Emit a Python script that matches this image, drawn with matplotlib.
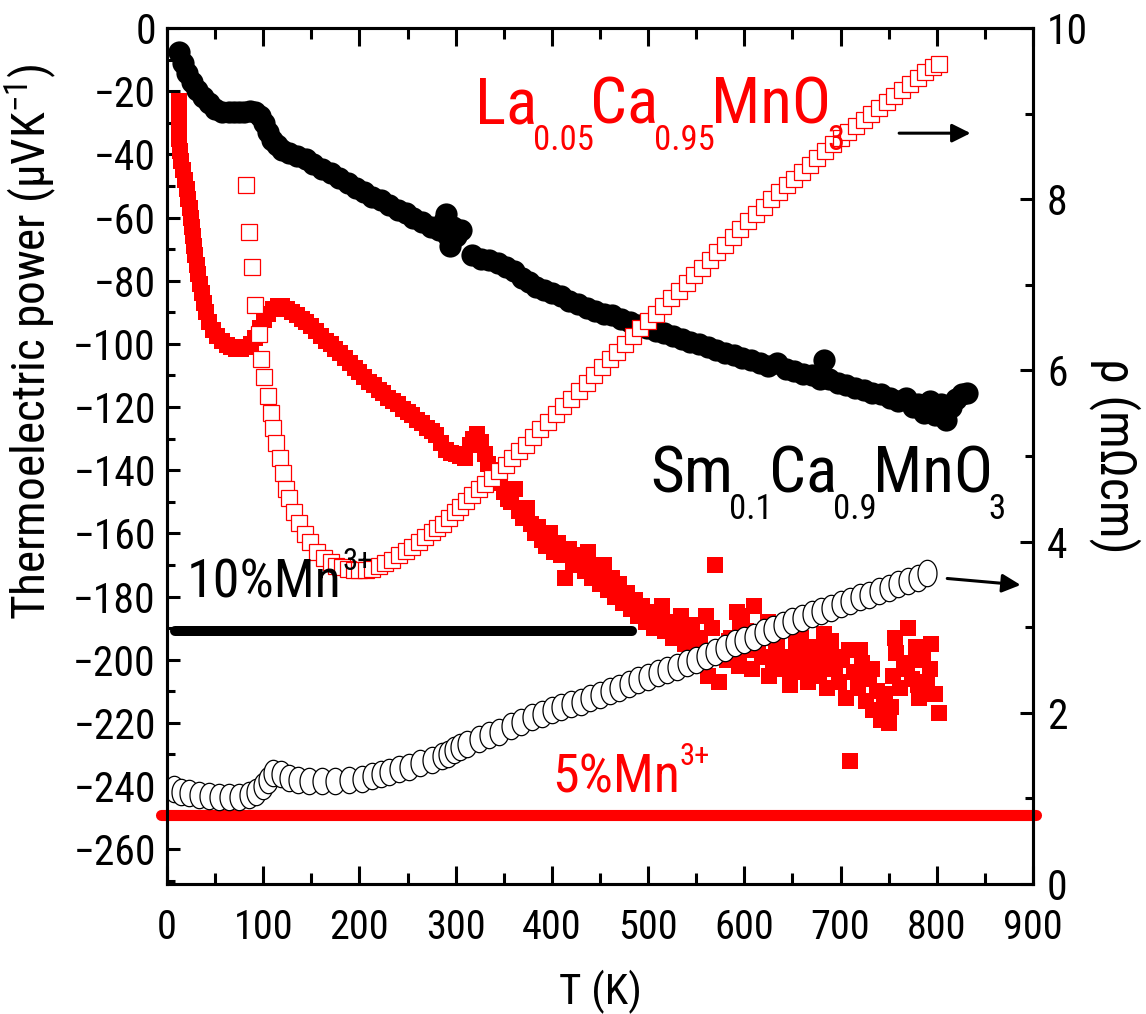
import numpy as np
import matplotlib
matplotlib.use("Agg")
from matplotlib import pyplot as plt
from matplotlib.path import Path
from matplotlib.transforms import offset_copy
from matplotlib.ticker import MultipleLocator

plt.rcParams['font.family'] = ['Roboto Condensed', 'Liberation Sans', 'DejaVu Sans']
plt.rcParams['mathtext.fontset'] = 'custom'
plt.rcParams['mathtext.rm'] = 'Roboto Condensed'
plt.rcParams['mathtext.it'] = 'Roboto Condensed'
plt.rcParams['mathtext.default'] = 'regular'

# Sm0.1Ca0.9MnO3 thermopower (black filled circles, left axis)
sm_T = [13, 17, 21, 26, 31, 37, 44, 50, 57, 64, 70, 75, 80, 86, 92, 97, 101, 105, 109, 114,
        120, 127, 135, 144, 152, 161, 170, 179, 188, 196, 205, 213, 222, 231, 240, 248, 256,
        265, 274, 283, 288, 290, 292, 294, 297, 300, 306, 317, 326, 335, 344, 352, 361, 369,
        376, 383, 392, 400, 409, 418, 427, 436, 445, 454, 463, 472, 481, 490, 499, 508, 517,
        526, 535, 544, 553, 562, 571, 580, 589, 598, 607, 616, 625, 634, 643, 652, 661, 670,
        679, 683, 688, 697, 706, 715, 724, 733, 742, 751, 760, 768, 775, 781, 787, 793, 798,
        804, 810, 815, 820, 826, 831]
sm_S = [-7.6, -11, -14.3, -17, -19.6, -22, -23.8, -25.5, -26.5, -26.6, -26.6, -26.6, -26.5,
        -26.3, -26.5, -28, -30, -33, -35.5, -37, -38.5, -39.5, -40.5, -41.5, -43, -44.5, -46,
        -47.5, -49, -50.5, -52, -53.5, -54.5, -56, -57.5, -58.6, -60, -61.5, -63, -64, -61,
        -59, -66, -69, -63, -66, -64, -72, -73, -73.5, -74.5, -75.7, -77, -79, -80.5, -82, -83,
        -84, -85, -86.5, -87.5, -88.5, -89.5, -90.5, -91, -92, -93, -94, -95, -96, -96.5,
        -97.5, -98.5, -99.5, -100, -101, -102, -103, -103.5, -104.5, -105, -106, -107, -106,
        -108, -108.5, -109.5, -110, -111, -105, -111, -112.5, -113, -114, -114.5, -115.5, -116,
        -117, -118, -117, -120, -119, -122, -118, -122.5, -119, -124, -120, -117.5, -116, -115.5]

# La0.05Ca0.95MnO3 thermopower (red filled squares, left axis)
la_T = [12, 12, 13, 13, 14, 15, 17, 19, 21, 22, 24, 25, 26, 27, 28, 29, 31, 32, 34, 36, 38,
        41, 44, 48, 52, 57, 62, 67, 72, 77, 82, 87, 92, 97, 101, 105, 110, 115, 120, 125, 130,
        135, 140, 145, 150, 155, 160, 165, 170, 175, 180, 185, 190, 195, 200, 205, 210, 215,
        220, 225, 230, 235, 240, 245, 250, 255, 260, 265, 270, 275, 280, 285, 290, 295, 300,
        305, 310, 315, 318, 322, 326, 330, 334, 338, 342, 346, 350, 354, 358, 362, 366, 370,
        374, 378, 382, 386, 390, 394, 398, 402, 406, 410, 414, 418, 422, 426, 430, 434, 438,
        442, 446, 450, 454, 458, 462, 466, 470, 474, 478, 482, 486, 490, 494, 498, 502, 506,
        510, 514, 518, 522, 526, 530, 534, 538, 542, 546, 550, 554, 558, 562, 566, 570, 574,
        578, 582, 586, 590, 594, 598, 602, 606, 610, 614, 618, 622, 626, 630, 634, 638, 642,
        646, 650, 654, 658, 662, 666, 670, 674, 678, 682, 686, 690, 694, 698, 702, 706, 710,
        714, 718, 722, 726, 730, 734, 738, 742, 746, 750, 754, 758, 762, 766, 770, 774, 778,
        782, 786, 790, 794, 798, 802,
        584, 596, 608, 621, 633, 647, 659, 671, 683, 697, 709, 721, 733, 745, 757, 769, 781,
        793, 560, 592, 625, 655, 688, 720, 752, 785]
la_S = [-23, -27, -31, -35, -39, -42, -45, -48, -51, -54, -57, -60, -63, -66, -69, -72, -75,
        -78, -81, -84, -87, -90, -93, -95.5, -97.5, -99, -100.5, -101, -101.5, -101.5, -101,
        -100, -98, -95, -92.5, -90.5, -89, -88, -88, -89, -90, -91, -92, -93, -94.5, -96,
        -97.5, -99, -100, -101.5, -103, -104.5, -106, -107.5, -109, -110.5, -112, -113, -114.5,
        -115.5, -117, -118, -119, -120.5, -121.5, -122.5, -124, -125, -126.5, -127.5, -129,
        -131.5, -133.5, -134.5, -135, -135.5, -136, -132, -130, -128.5, -131, -135, -138, -140,
        -142, -144, -147, -149, -150, -146, -153, -155, -152, -157, -160, -158, -162, -164,
        -160, -166, -163, -167, -174, -165, -170, -167, -169, -172, -166, -174, -171, -176,
        -170, -178, -174, -180, -176, -182, -179, -184, -181, -186, -183, -188, -185, -190,
        -187, -183, -191, -188, -193, -190, -186, -195, -192, -189, -196, -193, -199, -205,
        -190, -170, -207, -196, -200, -193, -198, -202, -186, -191, -197, -183, -195, -199,
        -193, -205, -200, -196, -203, -190, -199, -204, -195, -201, -197, -207, -202, -196,
        -205, -200, -209, -194, -203, -207, -199, -212, -232, -204, -209, -201, -213, -206,
        -216, -210, -219, -214, -220, -205, -198, -209, -203, -190, -206, -196, -212, -200,
        -207, -195, -211, -217,
        -194, -189, -203, -191, -198, -208, -193, -199, -192, -200, -197, -206, -203, -211,
        -193, -201, -208, -203, -186, -185, -188, -204, -199, -197, -215, -199]

# Sm0.1Ca0.9MnO3 resistivity (open circles, right axis)
smr_T = [7, 15, 23, 33, 44, 54, 64, 75, 85, 93, 100, 105, 110, 118, 127, 136, 148, 161, 175,
         189, 203, 213, 222, 231, 241, 252, 263, 275, 286, 292, 298, 305, 312, 324, 335, 345,
         358, 368, 379, 390, 400, 410, 420, 430, 440, 450, 460, 470, 480, 490, 500, 510, 520,
         530, 540, 550, 560, 570, 580, 590, 600, 610, 620, 630, 640, 650, 660, 670, 680, 690,
         700, 710, 720, 730, 740, 750, 760, 770, 780, 790]
smr_rho = [1.11, 1.08, 1.06, 1.04, 1.03, 1.02, 1.02, 1.02, 1.04, 1.08, 1.14, 1.22, 1.30, 1.28,
           1.24, 1.21, 1.20, 1.20, 1.20, 1.21, 1.23, 1.26, 1.29, 1.31, 1.34, 1.37, 1.41, 1.45,
           1.49, 1.52, 1.56, 1.60, 1.63, 1.69, 1.74, 1.78, 1.84, 1.89, 1.95, 1.99, 2.03, 2.07,
           2.10, 2.13, 2.17, 2.21, 2.25, 2.29, 2.34, 2.38, 2.42, 2.46, 2.50, 2.54, 2.58, 2.62,
           2.66, 2.71, 2.76, 2.81, 2.85, 2.89, 2.94, 2.98, 3.03, 3.07, 3.11, 3.15, 3.19, 3.23,
           3.27, 3.31, 3.35, 3.38, 3.42, 3.46, 3.50, 3.54, 3.58, 3.63]

# La0.05Ca0.95MnO3 resistivity (open squares, right axis)
lar_T = [82, 85, 88, 92, 96, 98, 101, 105, 108, 110, 113, 117, 121, 124, 127, 132, 137, 143,
         149, 156, 163, 170, 176, 182, 188, 194, 200, 207, 213, 220, 227, 234, 241, 248, 255,
         262, 268, 275, 281, 287, 293, 299, 305, 311, 317, 324, 331, 338, 345, 352, 359, 366,
         373, 380, 388, 396, 404, 412, 420, 428, 436, 444, 452, 460, 468, 476, 484, 492, 500,
         508, 516, 524, 532, 540, 548, 556, 564, 572, 580, 588, 596, 604, 612, 620, 628, 636,
         644, 652, 660, 668, 676, 684, 692, 700, 708, 716, 724, 732, 740, 748, 756, 764, 772,
         780, 788, 796, 802]
lar_rho = [8.17, 7.62, 7.21, 6.76, 6.42, 6.13, 5.92, 5.70, 5.50, 5.33, 5.15, 4.98, 4.80, 4.62,
           4.51, 4.35, 4.22, 4.09, 3.99, 3.88, 3.81, 3.76, 3.72, 3.70, 3.68, 3.67, 3.67, 3.67,
           3.68, 3.71, 3.75, 3.79, 3.84, 3.89, 3.94, 3.99, 4.05, 4.11, 4.16, 4.20, 4.27, 4.34,
           4.41, 4.48, 4.55, 4.61, 4.67, 4.74, 4.82, 4.90, 4.98, 5.06, 5.13, 5.22, 5.31, 5.40,
           5.49, 5.58, 5.67, 5.76, 5.85, 5.95, 6.04, 6.13, 6.22, 6.31, 6.40, 6.49, 6.58, 6.66,
           6.75, 6.84, 6.93, 7.02, 7.11, 7.20, 7.29, 7.38, 7.47, 7.56, 7.65, 7.74, 7.83, 7.91,
           8.00, 8.08, 8.16, 8.24, 8.32, 8.40, 8.48, 8.56, 8.64, 8.72, 8.79, 8.86, 8.93, 9.00,
           9.07, 9.14, 9.21, 9.28, 9.35, 9.42, 9.48, 9.54, 9.58]

# reference levels for 10% and 5% Mn3+
mn10_T = [8, 483]
mn10_S = [-191, -191]
mn5_T = [-6, 903]
mn5_S = [-249, -249]

xticks = [0, 100, 200, 300, 400, 500, 600, 700, 800, 900]
yticks_left = list(range(0, -261, -20))
yticks_right = [0, 2, 4, 6, 8, 10]


def put_formula(ax, x, y, parts, color, size, small, shift, tuck=0):
    """write text pieces one after another, 'sub'/'sup' parts get smaller and shifted.
    drawn on the top axes so the labels sit above the open symbols"""
    fig = ax.figure
    top = fig.axes[-1]
    r = fig.canvas.get_renderer()
    dx = 0
    for s, kind in parts:
        if kind == 'sub':
            fs, dy = small, -shift
        elif kind == 'sup':
            fs, dy = small, shift
        else:
            fs, dy = size, 0
        tr = offset_copy(ax.transData, fig=fig, x=dx, y=dy, units='dots')
        t = top.text(x, y, s, transform=tr, fontsize=fs, color=color,
                     ha='left', va='baseline', zorder=6)
        dx += t.get_window_extent(r).width - tuck


fig = plt.figure(figsize=(11.46, 10.14), dpi=100)
ax = fig.add_axes([0.1457, 0.1282, 0.7557, 0.8442])
ax2 = ax.twinx()

# slightly tall ellipse, like the open circles of the original
theta = np.linspace(0, 2 * np.pi, 60)
ellipse = Path(np.column_stack([0.72 * np.cos(theta), np.sin(theta)]))

ax.plot(sm_T, sm_S, 'o', color='black', ms=16, mew=0, zorder=2)
ax.plot(la_T, la_S, 's', color='red', ms=11, mew=0, zorder=3)
ax.plot(mn10_T, mn10_S, '-', color='black', lw=7.2, solid_capstyle='round', zorder=4)
ax.plot(mn5_T, mn5_S, '-', color='red', lw=8, solid_capstyle='round', zorder=4, clip_on=False)

ax2.plot(smr_T, smr_rho, linestyle='none', marker=ellipse, ms=19, mfc='white',
         mec='black', mew=0.9)
ax2.plot(lar_T, lar_rho, linestyle='none', marker='s', ms=12, mfc='white',
         mec='red', mew=0.9)

ax.set_xlim(0, 900)
ax.set_ylim(-271, 0)
ax2.set_ylim(0, 10)

ax.set_xticks(xticks)
ax.set_yticks(yticks_left)
ax2.set_yticks(yticks_right)
ax.xaxis.set_minor_locator(MultipleLocator(50))
ax.yaxis.set_minor_locator(MultipleLocator(10))
ax2.yaxis.set_minor_locator(MultipleLocator(1))

for a in [ax, ax2]:
    for sp in a.spines.values():
        sp.set_linewidth(2.2)
ax.tick_params(axis='x', which='major', direction='in', length=13, width=2.2,
               top=True, labelsize=29, pad=17.5)
ax.tick_params(axis='x', which='minor', direction='in', length=8, width=2.2, top=True)
ax.tick_params(axis='y', which='major', direction='in', length=9.5, width=2.2,
               right=False, labelsize=30, pad=8)
ax.tick_params(axis='y', which='minor', direction='in', length=6, width=2.2, right=False)
ax2.tick_params(axis='y', which='major', direction='in', length=9.5, width=2.2,
                labelsize=30, pad=10)
ax2.tick_params(axis='y', which='minor', direction='in', length=6, width=2.2)

ax.set_xlabel('T (K)', fontsize=31, va='top')
ax.xaxis.set_label_coords(0.5, -0.1)
ax.set_ylabel(r'Thermoelectric power ($\mu$VK$^{-1}$)', fontsize=34)
ax.yaxis.set_label_coords(-0.125, 0.633)
ax2.text(1.094, 0.5, u'\u03c1 (m\u03a9cm)', transform=ax2.transAxes, rotation=-90,
         ha='center', va='center', fontsize=36)

put_formula(ax, 320, -30.1, [('La', ''), ('0.05', 'sub'), ('Ca', ''), ('0.95', 'sub'),
                             ('MnO', ''), ('3', 'sub')], 'red', 47, 25, 27, tuck=4)
put_formula(ax, 502, -147, [('Sm', ''), ('0.1', 'sub'), ('Ca', ''), ('0.9', 'sub'),
                            ('MnO', ''), ('3', 'sub')], 'black', 47, 25, 27, tuck=4)
put_formula(ax, 21, -180.2, [('10%Mn', ''), ('3+', 'sup')], 'black', 39, 22, 27)
put_formula(ax, 400, -242, [('5%Mn', ''), ('3+', 'sup')], 'red', 39, 22, 27)

# arrows pointing to the right axis
ax.annotate('', xy=(838, -33.3), xytext=(758, -33.3),
            arrowprops=dict(arrowstyle='-|>', color='black', lw=2.2, mutation_scale=28))
ax.annotate('', xy=(890, -176.4), xytext=(808, -174.2),
            arrowprops=dict(arrowstyle='-|>', color='black', lw=2.2, mutation_scale=28))

fig.savefig('out.png', dpi=100)
